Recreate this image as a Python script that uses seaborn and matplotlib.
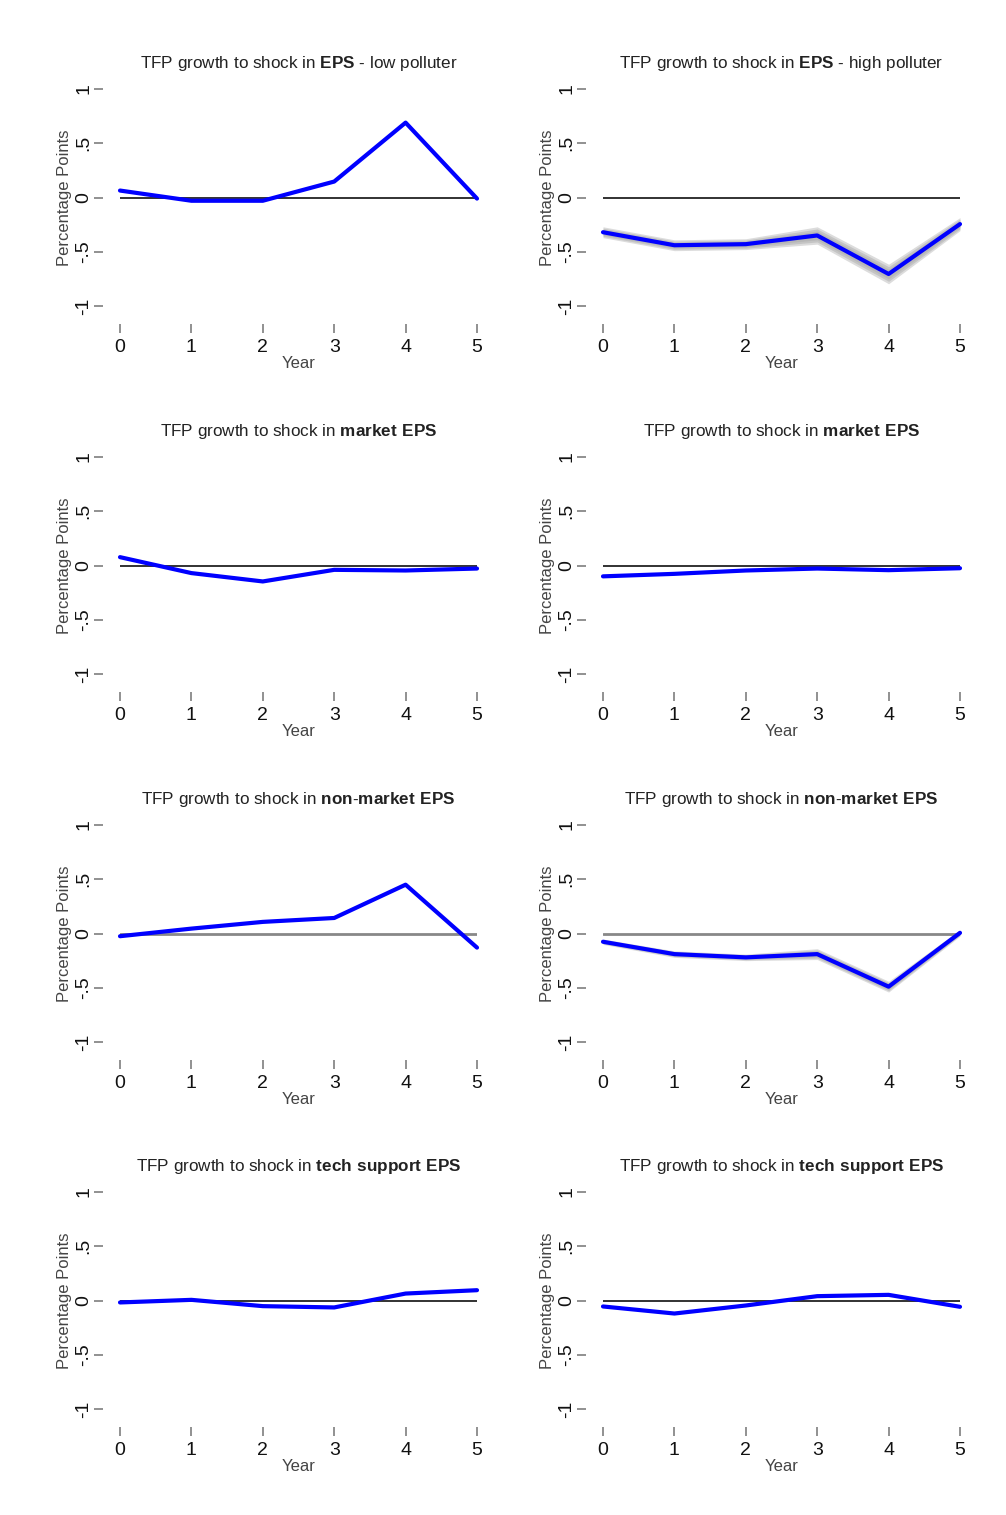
import seaborn as sns
import matplotlib.pyplot as plt
import pandas as pd

years = [0, 1, 2, 3, 4, 5]

# responses (percentage points)
eps_low = [0.064, -0.03, -0.03, 0.147, 0.69, -0.01]
eps_high = [-0.32, -0.44, -0.43, -0.35, -0.705, -0.245]
market_low = [0.077, -0.07, -0.147, -0.04, -0.046, -0.028]
market_high = [-0.10, -0.077, -0.046, -0.028, -0.043, -0.025]
nonmarket_low = [-0.025, 0.045, 0.107, 0.143, 0.45, -0.13]
nonmarket_high = [-0.076, -0.19, -0.22, -0.19, -0.49, 0.006]
tech_low = [-0.018, 0.006, -0.052, -0.064, 0.064, 0.095]
tech_high = [-0.055, -0.12, -0.046, 0.04, 0.052, -0.058]

# half width of the grey band around the high polluter lines
eps_high_band = [0.05, 0.05, 0.05, 0.08, 0.09, 0.06]
nonmarket_high_band = [0.025, 0.03, 0.03, 0.05, 0.05, 0.03]

titles = [
    r"TFP growth to shock in $\bf{EPS}$ - low polluter",
    r"TFP growth to shock in $\bf{EPS}$ - high polluter",
    r"TFP growth to shock in $\bf{market\ EPS}$",
    r"TFP growth to shock in $\bf{market\ EPS}$",
    r"TFP growth to shock in $\bf{non\text{-}market\ EPS}$",
    r"TFP growth to shock in $\bf{non\text{-}market\ EPS}$",
    r"TFP growth to shock in $\bf{tech\ support\ EPS}$",
    r"TFP growth to shock in $\bf{tech\ support\ EPS}$",
]
series = [eps_low, eps_high, market_low, market_high,
          nonmarket_low, nonmarket_high, tech_low, tech_high]
bands = [None, eps_high_band, None, None, None, nonmarket_high_band, None, None]

ytick_vals = [-1, -0.5, 0, 0.5, 1]
ytick_labels = ['-1', '-.5', '0', '.5', '1']

sns.set_style("white")
plt.rcParams['font.family'] = ['Liberation Sans', 'DejaVu Sans']
plt.rcParams['mathtext.fontset'] = 'custom'
plt.rcParams['mathtext.rm'] = 'Liberation Sans'
plt.rcParams['mathtext.bf'] = 'Liberation Sans:bold'

W, H = 1006, 1515
fig = plt.figure(figsize=(W / 100, H / 100), dpi=100)

col_left = [120, 603]
row_top = [89, 457, 825, 1192]
pw, ph = 357, 217

for i, (title, vals, band) in enumerate(zip(titles, series, bands)):
    r, c = divmod(i, 2)
    ax = fig.add_axes([col_left[c] / W, 1 - (row_top[r] + ph) / H, pw / W, ph / H])
    df = pd.DataFrame({'Year': years, 'value': vals})

    zcol = '#888888' if r == 2 else '#222222'
    zlw = 2.0 if r == 2 else 1.3
    ax.plot([0, 5], [0, 0], color=zcol, lw=zlw, zorder=1)

    if band is not None:
        for k, a in [(1.0, 0.4), (0.75, 0.45), (0.5, 0.45)]:
            lo = [v - k * b for v, b in zip(vals, band)]
            hi = [v + k * b for v, b in zip(vals, band)]
            ax.fill_between(years, lo, hi, color='#a8a8a8', alpha=a, lw=0, zorder=2)

    sns.lineplot(data=df, x='Year', y='value', ax=ax, color='#0000ff', lw=3.0,
                 zorder=3, clip_on=False)

    ax.set_xlim(0, 5)
    ax.set_ylim(-1, 1)
    for s in ['top', 'right']:
        ax.spines[s].set_visible(False)
    ax.spines['bottom'].set_position(('outward', 13))
    ax.spines['left'].set_position(('outward', 12))
    ax.spines['bottom'].set_color('none')
    ax.spines['left'].set_color('none')

    ax.set_xticks(years)
    ax.set_xticklabels([str(y) for y in years], fontsize=14)
    ax.set_yticks(ytick_vals)
    ax.set_yticklabels(ytick_labels, rotation=90, va='center', fontsize=14)
    ax.tick_params(axis='both', length=6.5, width=1.3, color='#888888',
                   labelcolor='#111111', left=True, bottom=True)
    ax.tick_params(axis='x', pad=4)
    ax.tick_params(axis='y', pad=1.5)

    ax.set_xlabel('Year', fontsize=12, color='#444444', labelpad=0)
    ax.set_ylabel('Percentage Points', fontsize=12, color='#444444', labelpad=2)
    ax.set_title(title, fontsize=12.3, color='#222222', pad=15)

fig.savefig('out.png', dpi=100, facecolor='white')
